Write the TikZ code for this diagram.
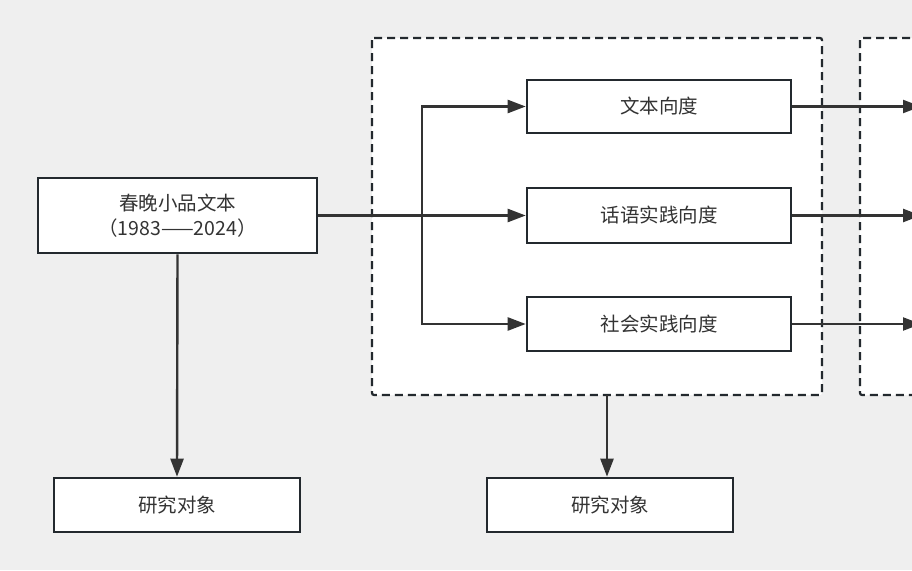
\documentclass[tikz,border=0pt]{standalone}
\usepackage{fontspec}
\setmainfont{Noto Sans CJK SC}
\usetikzlibrary{arrows.meta}
\definecolor{bg}{HTML}{EFEFEF}
\definecolor{edge}{HTML}{23292E}
\definecolor{wire}{HTML}{333333}
\tikzset{
  box/.style={draw=edge, line width=2.6pt, fill=white, inner sep=0pt, font=\fontsize{19.5}{25}\selectfont, text=black!80, align=center},
  group/.style={draw=edge, line width=2.2pt, dash pattern=on 8pt off 5pt, fill=white, rounded corners=2pt},
  conn/.style={draw=wire, line width=2.4pt, -{Triangle[length=18pt,width=13pt]}},
  thin/.style={draw=wire, line width=2.1pt, -{Triangle[length=18pt,width=13pt]}},
}
\begin{document}
\begin{tikzpicture}[x=1pt,y=-1pt]
\useasboundingbox (0,0) rectangle (912,570);
\clip (0,0) rectangle (912,570);
\fill[bg] (0,0) rectangle (912,570);
% dashed groups
\draw[group] (372,38) rectangle (822,395);
\draw[group] (860,38) rectangle (940,395);
\coordinate (g1s) at (607,395);
% nodes
\node[box, minimum width=279pt, minimum height=75pt] (src) at (177.5,215.5) {春晚小品文本\\（1983——2024）};
\node[box, minimum width=264pt, minimum height=53pt] (d1) at (659,106.5) {文本向度};
\node[box, minimum width=264pt, minimum height=55pt] (d2) at (659,215.5) {话语实践向度};
\node[box, minimum width=264pt, minimum height=54pt] (d3) at (659,324) {社会实践向度};
\node[box, minimum width=246pt, minimum height=54pt] (o1) at (177,505) {研究对象};
\node[box, minimum width=246pt, minimum height=54pt] (o2) at (610,505) {研究对象};
% junction
\coordinate (j) at (422,215.5);
\coordinate (r1) at (921,106.5);
\coordinate (r2) at (921,215.5);
\coordinate (r3) at (921,324);
% connectors
\draw[draw=wire, line width=3.6pt] (src.east) -- (j);
\draw[conn] (j) -- (d2.west);
\draw[conn] (j) |- (d1.west);
\draw[conn] (j) |- (d3.west);
\draw[conn] (src.south) -- (o1.north);
\draw[conn] (g1s) -- (g1s |- o2.north);
\draw[thin] (d1.east) -- (r1);
\draw[conn] (d2.east) -- (r2);
\draw[thin] (d3.east) -- (r3);
\end{tikzpicture}
\end{document}
